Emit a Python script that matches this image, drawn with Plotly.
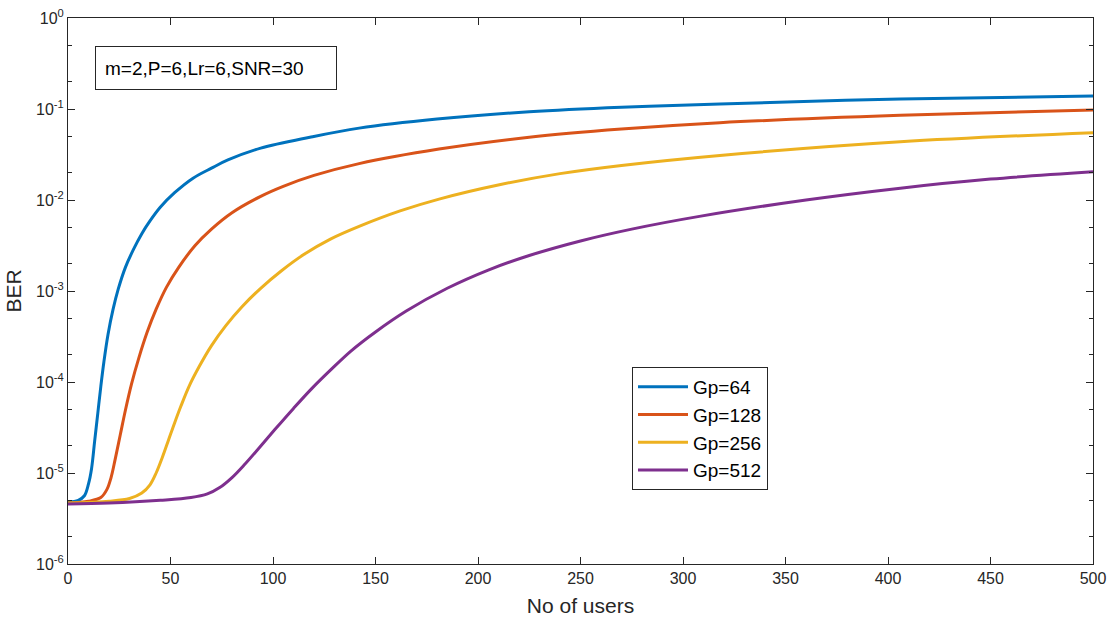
import plotly.graph_objects as go

# Data (users, log10(BER))
users_64 = [0, 5, 8, 10, 11.5, 13, 14.5, 16, 17.5, 19.5, 22, 24.5, 28, 32, 36, 40, 45, 52, 61, 70, 78, 94, 118, 142, 180, 225, 270, 318, 406, 500]
log_ber_64 = [-5.32, -5.30, -5.25, -5.12, -4.95, -4.65, -4.35, -4.05, -3.78, -3.48, -3.20, -2.98, -2.74, -2.54, -2.37, -2.23, -2.08, -1.92, -1.76, -1.65, -1.56, -1.43, -1.31, -1.21, -1.11, -1.03, -0.98, -0.945, -0.89, -0.857]

users_128 = [0, 10, 16, 19, 21, 23, 25.5, 28, 31, 34.5, 38.5, 43, 48, 54, 62, 70, 80, 94, 105, 120, 142, 181, 225, 270, 318, 406, 500]
log_ber_128 = [-5.33, -5.31, -5.27, -5.18, -5.05, -4.85, -4.58, -4.31, -4.02, -3.74, -3.46, -3.20, -2.96, -2.74, -2.50, -2.32, -2.14, -1.96, -1.85, -1.73, -1.60, -1.44, -1.31, -1.22, -1.15, -1.07, -1.01]

users_256 = [0, 20, 30, 36, 40, 43, 46, 49, 52, 55, 59, 64, 70, 77, 85, 94, 104, 115, 128, 142, 162, 181, 211, 240, 270, 318, 406, 500]
log_ber_256 = [-5.33, -5.31, -5.28, -5.22, -5.13, -5.00, -4.83, -4.64, -4.45, -4.27, -4.05, -3.83, -3.60, -3.38, -3.17, -2.97, -2.78, -2.60, -2.43, -2.29, -2.12, -1.99, -1.83, -1.71, -1.62, -1.51, -1.36, -1.26]

users_512 = [0, 20, 45, 60, 68, 74, 80, 86, 93, 101, 110, 119, 128, 138, 150, 165, 185, 205, 225, 250, 275, 308, 360, 406, 450, 500]
log_ber_512 = [-5.34, -5.33, -5.30, -5.27, -5.23, -5.16, -5.05, -4.91, -4.73, -4.52, -4.29, -4.07, -3.87, -3.66, -3.45, -3.22, -2.97, -2.77, -2.61, -2.45, -2.32, -2.18, -2.00, -1.87, -1.77, -1.69]

series_names = ["Gp=64", "Gp=128", "Gp=256", "Gp=512"]
series_colors = ["#0072BD", "#D95319", "#EDB120", "#7E2F8E"]
series_x = [users_64, users_128, users_256, users_512]
series_logy = [log_ber_64, log_ber_128, log_ber_256, log_ber_512]

y_tick_exponents = [-6, -5, -4, -3, -2, -1, 0]
x_tick_values = [0, 50, 100, 150, 200, 250, 300, 350, 400, 450, 500]

annotation_text = "m=2,P=6,Lr=6,SNR=30"

fig = go.Figure()
for name, color, xs, ly in zip(series_names, series_colors, series_x, series_logy):
    fig.add_trace(go.Scatter(
        x=xs, y=[10 ** v for v in ly], mode="lines", name=name,
        line=dict(color=color, width=3, shape="spline", smoothing=1.0),
    ))

axis_color = "#262626"
font_family = "Liberation Sans, Arial, sans-serif"

fig.update_layout(
    width=1112, height=625,
    margin=dict(l=68, r=19, t=18, b=61),
    paper_bgcolor="white", plot_bgcolor="white",
    font=dict(family=font_family, color=axis_color, size=15),
    showlegend=True,
    legend=dict(
        x=(632 - 68) / 1025, y=(564 - 367) / 546, xanchor="left", yanchor="top",
        bgcolor="white", bordercolor=axis_color, borderwidth=1,
        font=dict(size=19, color="black"),
        tracegroupgap=0, itemwidth=50,
    ),
    xaxis=dict(
        range=[0, 500], tickvals=x_tick_values,
        showline=True, linecolor=axis_color, linewidth=1, mirror="ticks",
        ticks="inside", ticklen=7, tickcolor=axis_color,
        showgrid=False, zeroline=False, automargin=False,
        tickfont=dict(size=16, color=axis_color),
        title=dict(text="No of users", font=dict(size=21, color=axis_color), standoff=12),
    ),
    yaxis=dict(
        type="log", range=[-6, 0],
        tickvals=[10 ** e for e in y_tick_exponents],
        ticktext=["10<sup>%d</sup>" % e for e in y_tick_exponents],
        showline=True, linecolor=axis_color, linewidth=1, mirror="ticks",
        ticks="inside", ticklen=7, tickcolor=axis_color,
        minor=dict(ticks="inside", ticklen=4, tickcolor=axis_color, showgrid=False),
        showgrid=False, zeroline=False, automargin=False,
        tickfont=dict(size=16, color=axis_color),
        title=dict(text="BER", font=dict(size=21, color=axis_color), standoff=8),
    ),
    annotations=[dict(
        text=annotation_text, xref="paper", yref="paper",
        x=(95 - 68) / 1025, y=(564 - 46) / 546, xanchor="left", yanchor="top",
        showarrow=False, align="left",
        font=dict(size=19, color="black"),
        bordercolor=axis_color, borderwidth=1, borderpad=9, bgcolor="white",
        width=222, height=24,
    )],
)

fig.write_html("out.html")
